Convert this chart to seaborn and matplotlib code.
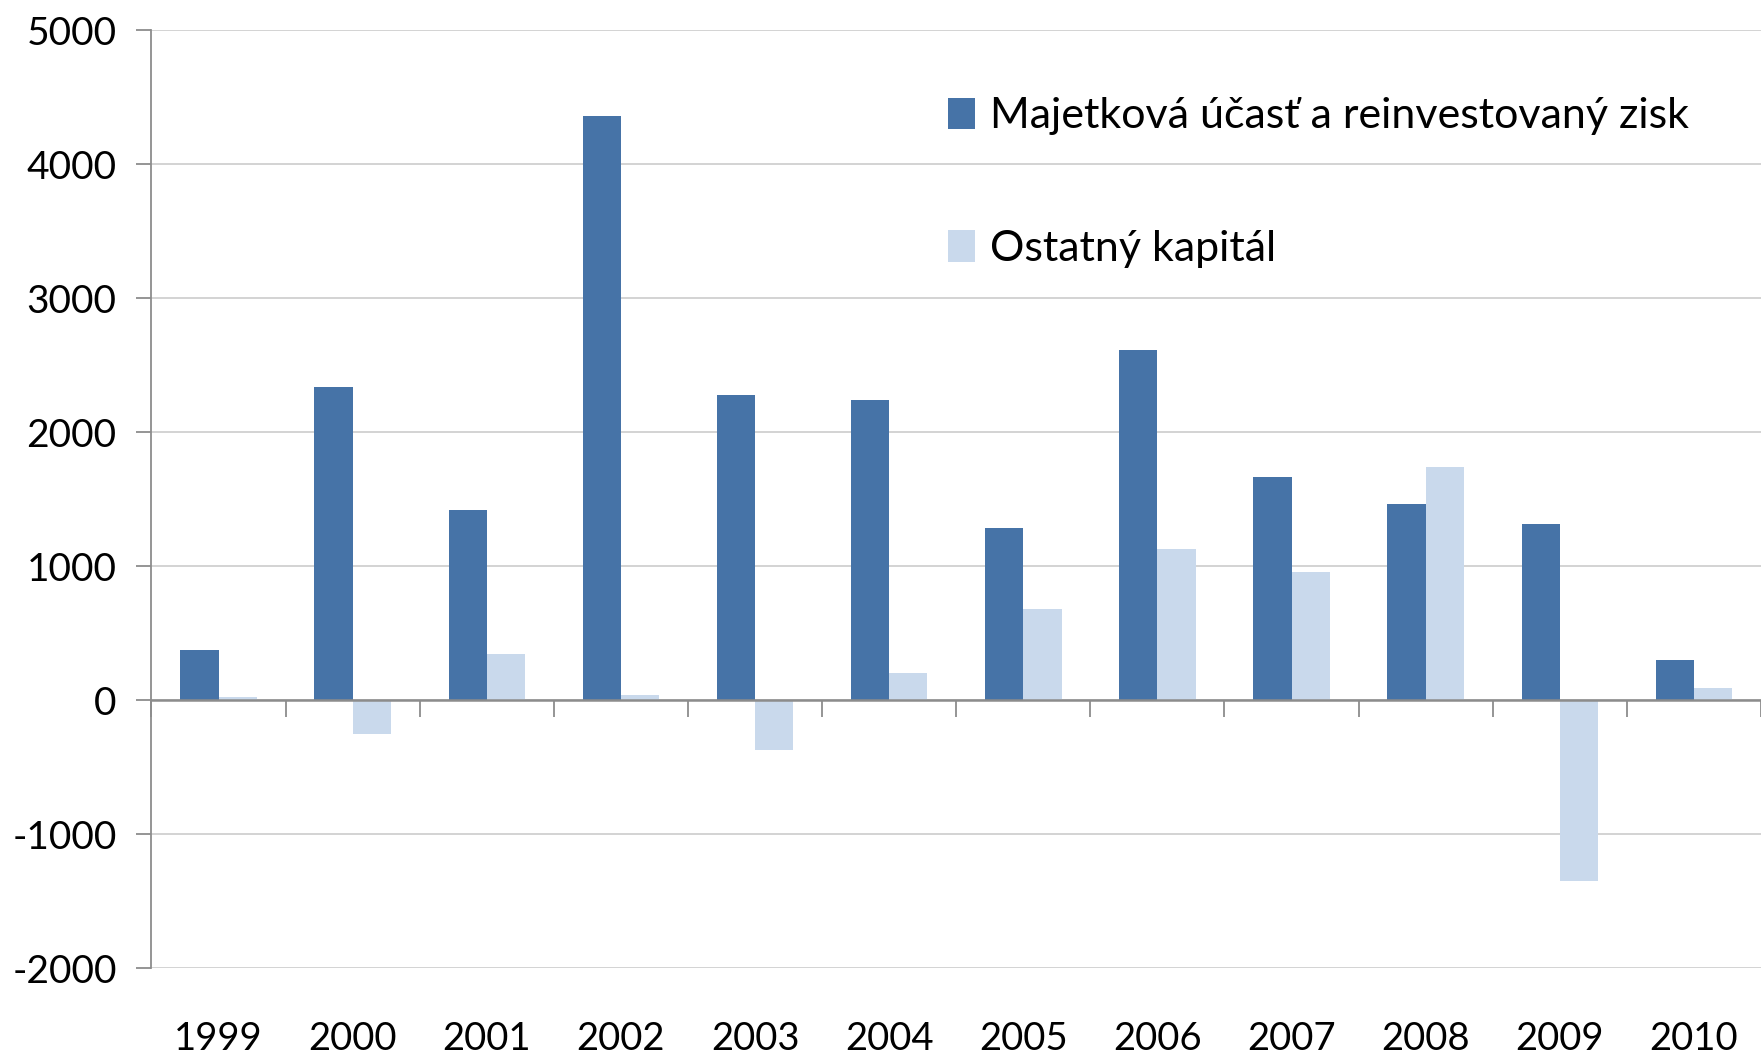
import matplotlib
matplotlib.use("Agg")
import matplotlib.pyplot as plt
import seaborn as sns
import pandas as pd
import numpy as np

years = ["1999", "2000", "2001", "2002", "2003", "2004", "2005", "2006", "2007", "2008", "2009", "2010"]
majetkova = [377, 2339, 1417, 4359, 2280, 2238, 1282, 2615, 1668, 1467, 1316, 302]
ostatny = [25, -251, 344, 42, -369, 201, 679, 1132, 956, 1743, -1350, 92]
series_names = ["Majetková účasť a reinvestovaný zisk", "Ostatný kapitál"]
yticks = [-2000, -1000, 0, 1000, 2000, 3000, 4000, 5000]

df = pd.DataFrame({
    "rok": years * 2,
    "hodnota": majetkova + ostatny,
    "séria": [series_names[0]] * len(years) + [series_names[1]] * len(years),
})

sns.set_theme(style="white")
plt.rcParams["font.family"] = ["Lato", "DejaVu Sans"]

fig = plt.figure(figsize=(17.61, 10.58), dpi=100)
ax = fig.add_axes([0.0860, 0.085, 0.9140, 0.8863])

palette = {series_names[0]: "#4673A7", series_names[1]: "#C9D9EC"}
sns.barplot(data=df, x="rok", y="hodnota", hue="séria", palette=palette,
            width=0.57, ax=ax, saturation=1, linewidth=0, order=years,
            hue_order=series_names)

ax.set_xlim(-0.5, len(years) - 0.5)
ax.set_ylim(-2000, 5000)
ax.set_yticks(yticks)
ax.set_yticklabels([str(v) for v in yticks])
ax.yaxis.grid(True, color="#D0D0D0", linewidth=1.3)
ax.set_axisbelow(True)
ax.set_xlabel("")
ax.set_ylabel("")

for s in ["top", "right", "bottom"]:
    ax.spines[s].set_visible(False)
ax.spines["left"].set_color("#8C8C8C")
ax.spines["left"].set_linewidth(1.3)

ax.tick_params(axis="y", which="major", direction="out", length=11, width=1.3,
               color="#8C8C8C", labelsize=28, pad=14, left=True)
ax.tick_params(axis="x", which="major", length=0, labelsize=27.5, pad=38)
for lab in ax.get_yticklabels() + ax.get_xticklabels():
    lab.set_color("black")

# zero axis line with category boundary ticks
ax.axhline(0, color="#8C8C8C", linewidth=1.8, zorder=3)
zero_pos = (0 - (-2000)) / (5000 - (-2000))
sec = ax.secondary_xaxis(zero_pos)
sec.set_xticks(np.arange(-0.5, len(years) - 0.5 + 0.01, 1.0))
sec.tick_params(direction="out", length=12, width=1.3, color="#8C8C8C",
                labelbottom=False, labeltop=False, bottom=True, top=False)
sec.spines["bottom"].set_visible(False)
sec.spines["top"].set_visible(False)

leg = ax.legend(loc="upper left", bbox_to_anchor=(0.4845, 0.947), frameon=False,
                fontsize=31, handlelength=0.62, handleheight=0.75,
                handletextpad=0.35, labelspacing=2.2, borderaxespad=0)
for t in leg.get_texts():
    t.set_color("black")

fig.savefig("out.png", dpi=100, facecolor="white")
